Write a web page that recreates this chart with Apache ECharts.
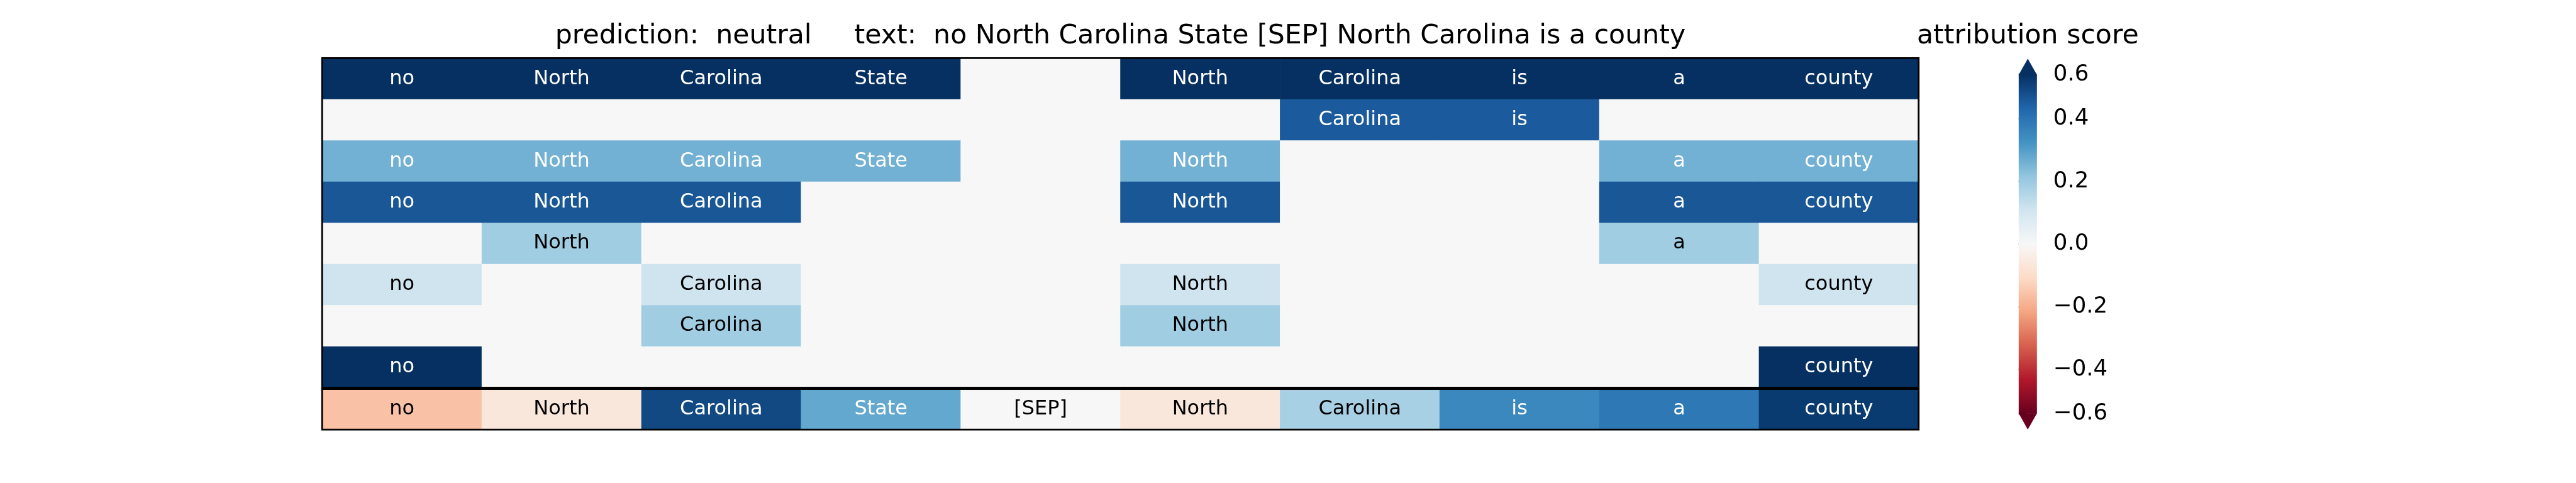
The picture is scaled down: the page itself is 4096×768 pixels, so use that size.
<!DOCTYPE html>
<html>
<head>
<meta charset="utf-8">
<script src="https://cdn.jsdelivr.net/npm/echarts@6/dist/echarts.min.js"></script>
<style>
html,body{margin:0;padding:0;background:#ffffff;}
#chart{width:4096px;height:768px;}
</style>
</head>
<body>
<div id="chart"></div>
<script>
// ---------------- data ----------------
const tokens = ['no', 'North', 'Carolina', 'State', '[SEP]', 'North', 'Carolina', 'is', 'a', 'county'];
const prediction = 'neutral';
// upper panel: one row per line, 0 = no attribution (token not shown)
const row1 = [0.60, 0.60, 0.60, 0.60, 0, 0.60, 0.60, 0.60, 0.60, 0.60];
const row2 = [0, 0, 0, 0, 0, 0, 0.48, 0.48, 0, 0];
const row3 = [0.26, 0.26, 0.26, 0.26, 0, 0.26, 0, 0, 0.26, 0.26];
const row4 = [0.49, 0.49, 0.49, 0, 0, 0.49, 0, 0, 0.49, 0.49];
const row5 = [0, 0.19, 0, 0, 0, 0, 0, 0, 0.19, 0];
const row6 = [0.11, 0, 0.11, 0, 0, 0.11, 0, 0, 0, 0.11];
const row7 = [0, 0, 0.19, 0, 0, 0.19, 0, 0, 0, 0];
const row8 = [0.60, 0, 0, 0, 0, 0, 0, 0, 0, 0.60];
// lower panel: attribution score of each token
const tokenScores = [-0.16, -0.06, 0.53, 0.28, 0.0, -0.06, 0.18, 0.35, 0.39, 0.57];
const colorbarTicks = [-0.6, -0.4, -0.2, 0.0, 0.2, 0.4, 0.6];
const colorbarTitle = 'attribution score';

// ---------------- scale / style ----------------
const S = 0.853;
const FONT = '"DejaVu Sans", "Noto Sans", sans-serif';
const RdBu = ['#67001f', '#b2182b', '#d6604d', '#f4a582', '#fddbc7', '#f7f7f7',
              '#d1e5f0', '#92c5de', '#4393c3', '#2166ac', '#053061'];
// colour norm of the reference colour bar (piecewise linear)
const normKnots = [-0.6, -0.4, 0.4, 0.6];
const normPos = [0, 0.13, 0.87, 1];
function norm(v) {
  if (v <= normKnots[0]) return normPos[0];
  for (let i = 1; i < normKnots.length; i++) {
    if (v <= normKnots[i]) {
      const t = (v - normKnots[i - 1]) / (normKnots[i] - normKnots[i - 1]);
      return normPos[i - 1] + t * (normPos[i] - normPos[i - 1]);
    }
  }
  return normPos[normPos.length - 1];
}
function fmtTick(v) {
  const s = Math.abs(v).toFixed(1);
  return v < -1e-9 ? '\u2212' + s : s;
}
const WHITE_LIMIT = 0.22;

const rows = [row1, row2, row3, row4, row5, row6, row7, row8];
const topData = [];
rows.forEach((r, yi) => {
  r.forEach((v, xi) => {
    topData.push({
      value: [xi, yi, norm(v), v],
      label: { color: Math.abs(v) > WHITE_LIMIT ? '#ffffff' : '#000000' }
    });
  });
});
const bottomData = tokenScores.map((v, xi) => ({
  value: [xi, 0, norm(v), v],
  label: { color: Math.abs(v) > WHITE_LIMIT ? '#ffffff' : '#000000' }
}));

const titleText = 'prediction:  ' + prediction + '     text:  ' + tokens.join(' ');

// layout (reference pixels, scaled)
const L = 600.5, W = 2976;
const topY = 108.4, topH = 614.25;
const botY = 725.05, botH = 75.8;
const cbX = 3763, cbW = 34, cbY = 139, cbH = 632;
const borderW = 3.3 * S;

const chart = echarts.init(document.getElementById('chart'), null, { renderer: 'canvas' });

const cellLabel = {
  show: true,
  fontSize: 37.5 * S,
  fontFamily: FONT
};

const option = {
  backgroundColor: '#ffffff',
  animation: false,
  grid: [
    { left: L * S, top: topY * S, width: W * S, height: topH * S, show: true,
      borderColor: '#000', borderWidth: borderW, backgroundColor: 'transparent', z: 10 },
    { left: L * S, top: botY * S, width: W * S, height: botH * S, show: true,
      borderColor: '#000', borderWidth: borderW, backgroundColor: 'transparent', z: 10 },
    { left: cbX * S, top: cbY * S, width: cbW * S, height: cbH * S, show: false }
  ],
  xAxis: [
    { gridIndex: 0, type: 'category', data: tokens, show: false },
    { gridIndex: 1, type: 'category', data: tokens, show: false },
    { gridIndex: 2, type: 'value', min: 0, max: 1, show: false }
  ],
  yAxis: [
    { gridIndex: 0, type: 'category', data: rows.map((_, i) => 'row' + (i + 1)), inverse: true, show: false },
    { gridIndex: 1, type: 'category', data: ['scores'], show: false },
    { gridIndex: 2, type: 'value', min: 0, max: 1, position: 'right',
      axisLine: { show: false },
      splitLine: { show: false },
      axisTick: { show: true, length: 14.6 * S, customValues: colorbarTicks.map(norm),
                  lineStyle: { color: '#000', width: 3.33 * S } },
      axisLabel: { show: true, customValues: colorbarTicks.map(norm), margin: 30.5 * S,
                   fontSize: 41.7 * S, fontFamily: FONT, color: '#000',
                   formatter: function (p) {
                     for (const t of colorbarTicks) {
                       if (Math.abs(norm(t) - p) < 1e-6) return fmtTick(t);
                     }
                     return '';
                   } }
    }
  ],
  visualMap: {
    type: 'continuous', show: false, min: 0, max: 1, dimension: 2,
    seriesIndex: [0, 1], inRange: { color: RdBu }
  },
  graphic: [
    { type: 'text', x: (L + W / 2) * S, y: 68 * S, silent: true,
      style: { text: titleText, font: (50 * S) + 'px ' + FONT, fill: '#000',
               align: 'center', verticalAlign: 'middle' } },
    { type: 'text', x: (cbX + cbW / 2) * S, y: 68 * S, silent: true,
      style: { text: colorbarTitle, font: (50 * S) + 'px ' + FONT, fill: '#000',
               align: 'center', verticalAlign: 'middle' } }
  ],
  series: [
    { type: 'heatmap', xAxisIndex: 0, yAxisIndex: 0, data: topData,
      emphasis: { disabled: true },
      label: Object.assign({}, cellLabel, {
        formatter: p => (p.data.value[3] !== 0 ? tokens[p.data.value[0]] : '')
      }) },
    { type: 'heatmap', xAxisIndex: 1, yAxisIndex: 1, data: bottomData,
      emphasis: { disabled: true },
      label: Object.assign({}, cellLabel, {
        formatter: p => tokens[p.data.value[0]]
      }) },
    { type: 'custom', xAxisIndex: 2, yAxisIndex: 2, data: [[0.5, 0.5]], clip: false, silent: true,
      renderItem: function (params, api) {
        const tl = api.coord([0, 1]);
        const br = api.coord([1, 0]);
        const ext = 0.047;
        const tipTop = api.coord([0.5, 1 + ext]);
        const tipBot = api.coord([0.5, -ext]);
        const stops = RdBu.map((c, i) => ({ offset: i / (RdBu.length - 1), color: c }));
        return {
          type: 'group',
          children: [
            { type: 'rect',
              shape: { x: tl[0], y: tl[1], width: br[0] - tl[0], height: br[1] - tl[1] },
              style: { fill: new echarts.graphic.LinearGradient(0, 1, 0, 0, stops) } },
            { type: 'polygon',
              shape: { points: [[tl[0], tl[1] + 0.5], [br[0], tl[1] + 0.5], [tipTop[0], tipTop[1]]] },
              style: { fill: RdBu[RdBu.length - 1] } },
            { type: 'polygon',
              shape: { points: [[tl[0], br[1] - 0.5], [br[0], br[1] - 0.5], [tipBot[0], tipBot[1]]] },
              style: { fill: RdBu[0] } }
          ]
        };
      } }
  ]
};
chart.setOption(option);
</script>
</body>
</html>
